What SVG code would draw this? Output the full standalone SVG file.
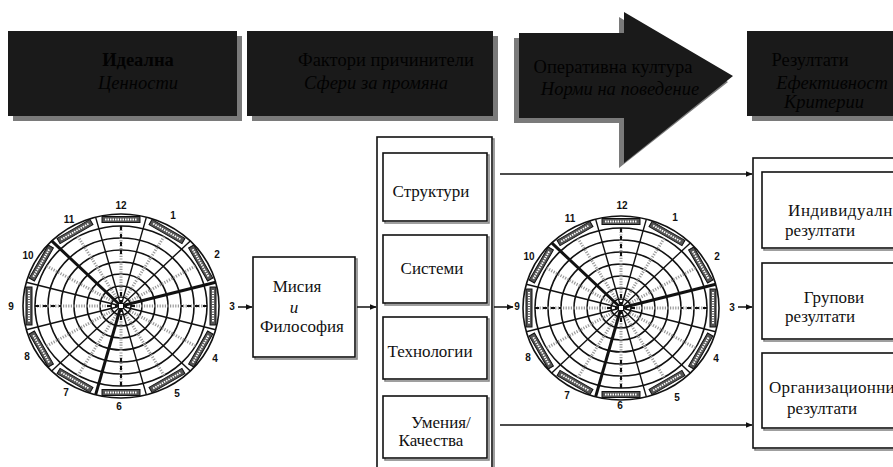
<svg xmlns="http://www.w3.org/2000/svg" xmlns:xlink="http://www.w3.org/1999/xlink" width="893" height="467" viewBox="0 0 893 467">
<style>
.hdr{fill:#1a1a1a}
.shd{fill:#7a7a7a}
.ht{font-family:"Liberation Serif",serif;font-size:18.5px;fill:#020202;text-anchor:middle}
.hi{font-style:italic}
.bx{fill:#fff;stroke:#111;stroke-width:1.6}
.bs{fill:none;stroke:#888;stroke-width:1.6}
.t{font-family:"Liberation Serif",serif;font-size:17px;fill:#111;text-anchor:middle}
.ts{font-family:"Liberation Serif",serif;font-size:17px;fill:#111;text-anchor:start}
.n{font-family:"Liberation Sans",sans-serif;font-size:10px;font-weight:bold;fill:#111;text-anchor:middle}
.ln{stroke:#111;stroke-width:1.5;fill:none}
.rg{fill:none;stroke:#111;stroke-width:1.6}
.rd{stroke:#111;stroke-width:1.4}
.rt{stroke:#111;stroke-width:3}
.dg{stroke:#9a9a9a;stroke-width:3;stroke-dasharray:1.2 1.4}
.db{stroke:#111;stroke-width:2;stroke-dasharray:4 4}
.lb{fill:#555;stroke:#111;stroke-width:1}
.lw{stroke:#fff;stroke-width:2;stroke-dasharray:1.5 1}
</style>
<defs>
<marker id="ah" viewBox="0 0 10 10" refX="9" refY="5" markerWidth="7" markerHeight="7" orient="auto" markerUnits="userSpaceOnUse">
<path d="M0,1 L10,5 L0,9 z" fill="#111"/>
</marker>
<g id="lbl">
<rect class="lb" x="-19" y="-3" width="38" height="6"/>
<line class="lw" x1="-16" y1="0" x2="16" y2="0"/>
</g>
<g id="wheel">
<ellipse class="rg" rx="98" ry="92" stroke-width="2.2"/>
<ellipse class="rg" rx="86" ry="80"/>
<ellipse class="rg" rx="73" ry="68"/>
<ellipse class="rg" rx="60" ry="56"/>
<ellipse class="rg" rx="47" ry="44"/>
<ellipse class="rg" rx="34" ry="32"/>
<ellipse class="rg" rx="21" ry="20"/>
<ellipse class="rg" rx="10" ry="9"/>
<g>
<line class="dg" x1="0" y1="-10" x2="0" y2="-80"/>
<line class="dg" x1="5" y1="-9" x2="43" y2="-69.3"/>
<line class="dg" x1="9" y1="-5" x2="74.5" y2="-40"/>
<line class="dg" x1="10" y1="0" x2="86" y2="0"/>
<line class="dg" x1="9" y1="5" x2="74.5" y2="40"/>
<line class="dg" x1="5" y1="9" x2="43" y2="69.3"/>
<line class="dg" x1="0" y1="10" x2="0" y2="80"/>
<line class="dg" x1="-5" y1="9" x2="-43" y2="69.3"/>
<line class="dg" x1="-9" y1="5" x2="-74.5" y2="40"/>
<line class="dg" x1="-10" y1="0" x2="-86" y2="0"/>
<line class="dg" x1="-9" y1="-5" x2="-74.5" y2="-40"/>
<line class="dg" x1="-5" y1="-9" x2="-43" y2="-69.3"/>
</g>
<g>
<line class="db" x1="0" y1="-80" x2="0" y2="-52"/>
<line class="db" x1="0" y1="80" x2="0" y2="52"/>
<line class="db" x1="86" y1="0" x2="60" y2="0"/>
<line class="db" x1="-86" y1="0" x2="-60" y2="0"/>
<line class="db" x1="0" y1="-14" x2="0" y2="14" stroke-dasharray="2 2"/>
<line class="db" x1="-14" y1="0" x2="14" y2="0" stroke-dasharray="2 2"/>
</g>
<g>
<line class="rd" x1="0" y1="0" x2="25.4" y2="-88.9"/>
<line class="rd" x1="0" y1="0" x2="69.3" y2="-65.1"/>
<line class="rt" x1="0" y1="0" x2="94.7" y2="-23.8"/>
<line class="rd" x1="0" y1="0" x2="94.7" y2="23.8"/>
<line class="rd" x1="0" y1="0" x2="69.3" y2="65.1"/>
<line class="rd" x1="0" y1="0" x2="25.4" y2="88.9"/>
<line class="rt" x1="0" y1="0" x2="-25.4" y2="88.9"/>
<line class="rd" x1="0" y1="0" x2="-69.3" y2="65.1"/>
<line class="rd" x1="0" y1="0" x2="-94.7" y2="23.8"/>
<line class="rd" x1="0" y1="0" x2="-94.7" y2="-23.8"/>
<line class="rt" x1="0" y1="0" x2="-69.3" y2="-65.1"/>
<line class="rd" x1="0" y1="0" x2="-25.4" y2="-88.9"/>
</g>
<g>
<use href="#lbl" xlink:href="#lbl" transform="translate(0,-86.5)"/>
<use href="#lbl" xlink:href="#lbl" transform="translate(46,-74.5) rotate(30)"/>
<use href="#lbl" xlink:href="#lbl" transform="translate(79.7,-43) rotate(60)"/>
<use href="#lbl" xlink:href="#lbl" transform="translate(92,0) rotate(90)"/>
<use href="#lbl" xlink:href="#lbl" transform="translate(79.7,43) rotate(-60)"/>
<use href="#lbl" xlink:href="#lbl" transform="translate(46,74.5) rotate(-30)"/>
<use href="#lbl" xlink:href="#lbl" transform="translate(0,86.5)"/>
<use href="#lbl" xlink:href="#lbl" transform="translate(-46,74.5) rotate(30)"/>
<use href="#lbl" xlink:href="#lbl" transform="translate(-79.7,43) rotate(60)"/>
<use href="#lbl" xlink:href="#lbl" transform="translate(-92,0) rotate(90)"/>
<use href="#lbl" xlink:href="#lbl" transform="translate(-79.7,-43) rotate(-60)"/>
<use href="#lbl" xlink:href="#lbl" transform="translate(-46,-74.5) rotate(-30)"/>
</g>
<rect x="-2.5" y="-2.5" width="5" height="5" fill="#fff" stroke="#111" stroke-width="1"/>
</g>
</defs>
<rect width="893" height="467" fill="#fff"/>

<g id="hdr-ideal">
<rect class="shd" x="13" y="36" width="229" height="85"/>
<rect class="hdr" x="8" y="31" width="229" height="85"/>
<text class="ht" x="138" y="66" font-weight="bold">Идеална</text>
<text class="ht hi" x="138" y="89">Ценности</text>
</g>
<g id="hdr-factors">
<rect class="shd" x="252" y="36" width="246" height="85"/>
<rect class="hdr" x="247" y="31" width="246" height="85"/>
<text class="ht" x="386" y="66">Фактори причинители</text>
<text class="ht hi" x="376" y="89">Сфери за промяна</text>
</g>
<g id="hdr-operative">
<polygon class="shd" points="514,38 619,38 619,17 728,82 619,168 619,123 514,123"/>
<polygon class="hdr" points="519,33 624,33 624,12 733,76 624,163 624,118 519,118"/>
<text class="ht" x="613" y="73">Оперативна култура</text>
<text class="ht hi" x="620" y="95">Норми на поведение</text>
</g>
<g id="hdr-results">
<rect class="shd" x="752" y="36" width="150" height="85"/>
<rect class="hdr" x="747" y="31" width="150" height="85"/>
<text class="ht" x="810" y="66">Резултати</text>
<text class="ht hi" x="832" y="89">Ефективност</text>
<text class="ht hi" x="824" y="108">Критерии</text>
</g>

<g id="wheel-ideal">
<use xlink:href="#wheel" href="#wheel" transform="translate(121,306)"/>
<text class="n" x="121" y="209">12</text>
<text class="n" x="173" y="219">1</text>
<text class="n" x="217" y="258">2</text>
<text class="n" x="232" y="310">3</text>
<text class="n" x="215" y="362">4</text>
<text class="n" x="177" y="397">5</text>
<text class="n" x="119" y="410">6</text>
<text class="n" x="66" y="396">7</text>
<text class="n" x="27" y="360">8</text>
<text class="n" x="11" y="310">9</text>
<text class="n" x="28" y="259">10</text>
<text class="n" x="69" y="223">11</text>
</g>

<g id="mission">
<rect class="bs" x="255" y="259" width="102" height="100"/>
<rect class="bx" x="253" y="257" width="102" height="100"/>
<text class="t" x="297" y="292">Мисия</text>
<text class="t hi" x="294" y="313" font-size="15">и</text>
<text class="t" x="302" y="332">Философия</text>
</g>

<g id="factors">
<rect class="bs" x="379" y="139" width="115" height="340"/>
<rect class="bx" x="377" y="137" width="115" height="340"/>
<rect class="bs" x="385" y="155" width="104" height="68"/>
<rect class="bx" x="383" y="153" width="104" height="68"/>
<text class="t" x="431" y="197">Структури</text>
<rect class="bs" x="385" y="237" width="104" height="68"/>
<rect class="bx" x="383" y="235" width="104" height="68"/>
<text class="t" x="432" y="274">Системи</text>
<rect class="bs" x="385" y="319" width="104" height="62"/>
<rect class="bx" x="383" y="317" width="104" height="62"/>
<text class="t" x="430" y="357">Технологии</text>
<rect class="bs" x="385" y="398" width="104" height="62"/>
<rect class="bx" x="383" y="396" width="104" height="62"/>
<text class="t" x="441" y="428">Умения/</text>
<text class="t" x="431" y="446">Качества</text>
</g>

<g id="wheel-operative">
<use xlink:href="#wheel" href="#wheel" transform="translate(621,308)"/>
<text class="n" x="622" y="209">12</text>
<text class="n" x="675" y="221">1</text>
<text class="n" x="717" y="260">2</text>
<text class="n" x="732" y="311">3</text>
<text class="n" x="716" y="362">4</text>
<text class="n" x="677" y="401">5</text>
<text class="n" x="620" y="409">6</text>
<text class="n" x="567" y="399">7</text>
<text class="n" x="528" y="361">8</text>
<text class="n" x="517" y="310">9</text>
<text class="n" x="529" y="260">10</text>
<text class="n" x="570" y="222">11</text>
</g>

<g id="results">
<rect class="bs" x="755" y="160" width="150" height="290"/>
<rect class="bx" x="753" y="158" width="150" height="290"/>
<rect class="bs" x="764" y="174" width="140" height="76"/>
<rect class="bx" x="762" y="172" width="140" height="76"/>
<text class="ts" x="788" y="216" letter-spacing="0.6">Индивидуални</text>
<text class="ts" x="785" y="236">резултати</text>
<rect class="bs" x="764" y="265" width="140" height="76"/>
<rect class="bx" x="762" y="263" width="140" height="76"/>
<text class="t" x="834" y="303">Групови</text>
<text class="ts" x="785" y="322">резултати</text>
<rect class="bs" x="764" y="355" width="140" height="75"/>
<rect class="bx" x="762" y="353" width="140" height="75"/>
<text class="ts" x="769" y="393" letter-spacing="0.3">Организационни</text>
<text class="ts" x="787" y="414">резултати</text>
</g>

<g id="connectors">
<line class="ln" x1="238" y1="307" x2="252" y2="307" marker-end="url(#ah)"/>
<line class="ln" x1="357" y1="307" x2="376" y2="307" marker-end="url(#ah)"/>
<line class="ln" x1="494" y1="307" x2="513" y2="307" marker-end="url(#ah)"/>
<line class="ln" x1="500" y1="174" x2="752" y2="174" marker-end="url(#ah)"/>
<line class="ln" x1="500" y1="425" x2="752" y2="425" marker-end="url(#ah)"/>
<line class="ln" x1="738" y1="307" x2="752" y2="307" marker-end="url(#ah)"/>
</g>
</svg>
